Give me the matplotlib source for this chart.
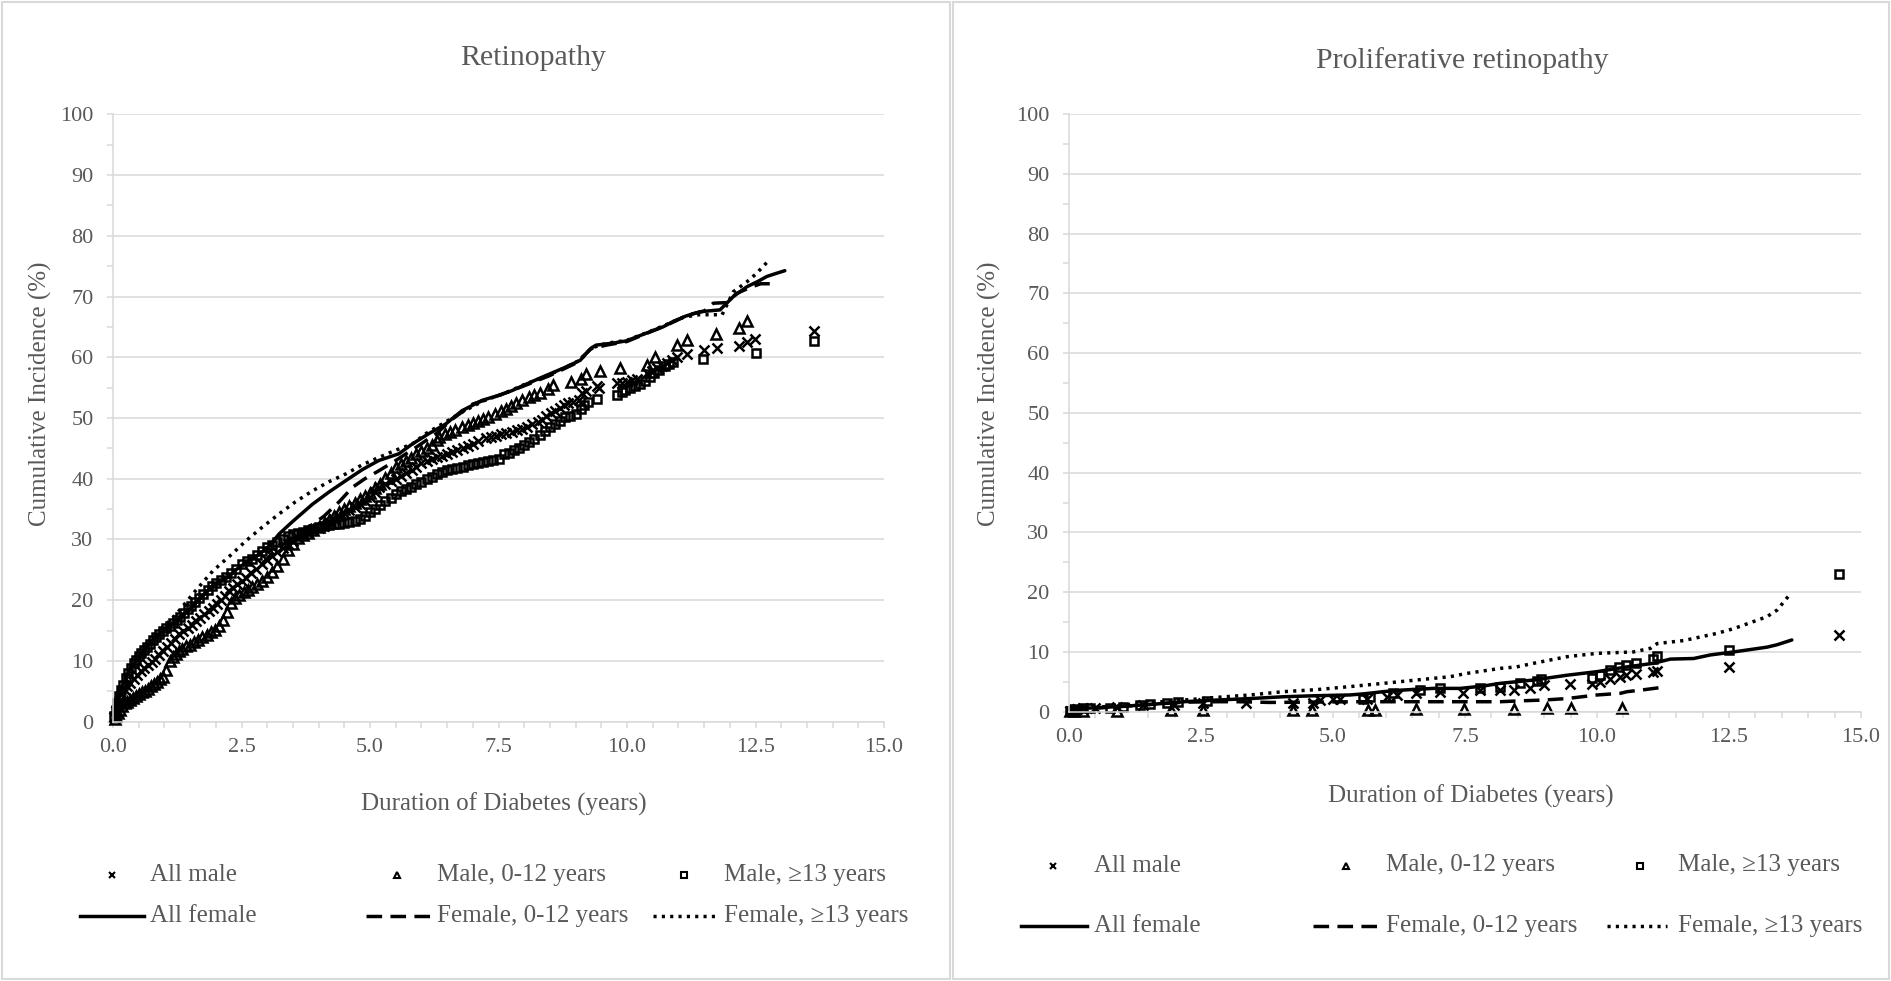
import matplotlib
matplotlib.use("Agg")
import matplotlib.pyplot as plt
from matplotlib.lines import Line2D
from matplotlib.patches import Rectangle
from matplotlib.ticker import MultipleLocator, FuncFormatter

plt.rcParams['font.family'] = ['Liberation Serif', 'DejaVu Serif']

# ---------------------------------------------------------------- data
# Retinopathy -- males (markers)
ret_male_all_x = [0.02, 0.05, 0.09, 0.13, 0.18, 0.23, 0.28, 0.33, 0.4, 0.47, 0.54, 0.61, 0.68, 0.75, 0.82, 0.9,
                  0.97, 1.05, 1.13, 1.21, 1.29, 1.37, 1.45, 1.53, 1.62, 1.7, 1.78, 1.86, 1.94, 2.02, 2.1, 2.18,
                  2.26, 2.34, 2.42, 2.5, 2.59, 2.68, 2.78, 2.9, 3.0, 3.1, 3.2, 3.3, 3.4, 3.5, 3.6, 3.7, 3.8, 3.9,
                  4.0, 4.1, 4.2, 4.3, 4.4, 4.5, 4.6, 4.7, 4.8, 4.9, 5.0, 5.1, 5.17, 5.3, 5.4, 5.5, 5.6, 5.7, 5.82,
                  5.9, 6.0, 6.1, 6.2, 6.3, 6.4, 6.5, 6.6, 6.7, 6.8, 6.9, 7.0, 7.1, 7.25, 7.35, 7.45, 7.55, 7.65,
                  7.76, 7.86, 7.96, 8.06, 8.16, 8.26, 8.34, 8.43, 8.52, 8.6, 8.7, 8.78, 8.86, 8.95, 9.06, 9.13,
                  9.2, 9.41, 9.45, 9.8, 9.9, 10.0, 10.1, 10.19, 10.38, 10.48, 10.58, 10.68, 10.77, 10.87, 10.97,
                  11.16, 11.49, 11.75, 12.17, 12.33, 12.49, 13.63]
ret_male_all_y = [0.8, 1.8, 2.8, 3.6, 4.6, 5.3, 5.8, 6.3, 7.0, 7.7, 8.3, 8.8, 9.3, 9.8, 10.4, 11.0,
                  11.6, 12.3, 12.9, 13.6, 14.4, 14.9, 15.5, 16.0, 16.6, 17.1, 17.7, 18.2, 18.8, 19.4, 20.0, 20.7,
                  21.5, 22.0, 22.6, 23.1, 23.7, 24.4, 25.1, 26.0, 26.7, 27.3, 28.0, 28.6, 29.2, 29.8, 30.3, 30.7,
                  31.1, 31.5, 31.9, 32.3, 32.8, 33.3, 33.9, 34.4, 34.9, 35.4, 35.9, 36.4, 37.0, 37.8, 38.6, 39.2,
                  39.6, 40.0, 40.5, 40.9, 41.4, 42.0, 42.6, 42.9, 43.2, 43.5, 43.8, 44.1, 44.4, 44.7, 45.0, 45.4,
                  45.8, 46.2, 46.7, 46.9, 47.1, 47.3, 47.5, 47.7, 48.0, 48.2, 48.6, 49.0, 49.3, 49.6, 50.3, 50.8,
                  51.2, 51.6, 52.1, 52.4, 52.7, 52.9, 54.1, 54.5, 55.3, 55.0, 55.7, 55.8, 55.9, 56.2, 56.5, 57.4,
                  57.8, 58.2, 58.6, 59.0, 59.6, 60.1, 60.6, 61.2, 61.5, 61.9, 62.5, 63.0, 64.4]

ret_male_young_x = [0.03, 0.06, 0.1, 0.14, 0.18, 0.23, 0.28, 0.33, 0.38, 0.44, 0.5, 0.56, 0.62, 0.68, 0.74, 0.8,
                    0.86, 0.92, 0.98, 1.04, 1.1, 1.16, 1.22, 1.28, 1.35, 1.42, 1.5, 1.58, 1.66, 1.74, 1.82, 1.9,
                    1.98, 2.06, 2.14, 2.22, 2.3, 2.38, 2.46, 2.54, 2.62, 2.7, 2.8, 2.9, 3.0, 3.1, 3.2, 3.3, 3.4,
                    3.5, 3.6, 3.7, 3.8, 3.9, 4.0, 4.1, 4.2, 4.3, 4.4, 4.5, 4.6, 4.7, 4.8, 4.9, 5.0, 5.1, 5.2, 5.3,
                    5.4, 5.5, 5.6, 5.7, 5.8, 5.9, 6.0, 6.1, 6.2, 6.3, 6.34, 6.45, 6.55, 6.65, 6.79, 6.9, 7.0, 7.1,
                    7.2, 7.3, 7.44, 7.55, 7.65, 7.75, 7.85, 7.95, 8.09, 8.2, 8.3, 8.47, 8.57, 8.92, 9.1, 9.21,
                    9.47, 9.86, 10.38, 10.54, 10.97, 11.16, 11.74, 12.17, 12.34]
ret_male_young_y = [0.5, 1.0, 1.5, 2.0, 2.6, 3.0, 3.3, 3.5, 3.9, 4.3, 4.6, 4.9, 5.1, 5.4, 5.8, 6.2,
                    6.6, 7.0, 7.4, 8.5, 10.0, 10.6, 11.1, 11.6, 12.0, 12.4, 12.7, 13.1, 13.5, 13.9, 14.3, 14.7,
                    15.1, 15.8, 16.7, 18.0, 19.5, 20.3, 20.9, 21.3, 21.7, 22.2, 22.7, 23.2, 23.8, 24.6, 25.6, 26.8,
                    28.2, 29.3, 30.2, 30.7, 31.1, 31.5, 32.0, 32.6, 33.2, 33.9, 34.5, 35.0, 35.5, 36.0, 36.6, 37.1,
                    37.7, 38.4, 39.2, 40.1, 41.0, 41.9, 42.4, 42.9, 43.4, 44.0, 44.6, 45.1, 45.6, 46.3, 46.8, 47.3,
                    47.7, 48.1, 48.5, 48.8, 49.1, 49.5, 49.9, 50.2, 50.7, 51.1, 51.5, 52.0, 52.4, 52.9, 53.4, 53.8,
                    54.1, 54.8, 55.4, 56.0, 56.5, 57.2, 57.8, 58.3, 58.7, 60.0, 62.1, 62.8, 63.8, 64.8, 66.0]

ret_male_older_x = [0.02, 0.05, 0.08, 0.12, 0.16, 0.2, 0.25, 0.3, 0.35, 0.4, 0.45, 0.5, 0.55, 0.6, 0.66, 0.72,
                    0.78, 0.84, 0.9, 0.97, 1.04, 1.1, 1.17, 1.24, 1.31, 1.38, 1.45, 1.52, 1.6, 1.68, 1.76, 1.84,
                    1.92, 2.0, 2.1, 2.2, 2.3, 2.4, 2.5, 2.6, 2.7, 2.8, 2.9, 3.0, 3.1, 3.2, 3.3, 3.4, 3.5, 3.6, 3.7,
                    3.8, 3.9, 4.0, 4.1, 4.2, 4.3, 4.4, 4.5, 4.6, 4.7, 4.8, 4.9, 5.0, 5.1, 5.2, 5.3, 5.4, 5.5, 5.6,
                    5.7, 5.8, 5.9, 6.0, 6.1, 6.2, 6.3, 6.4, 6.5, 6.6, 6.7, 6.8, 6.9, 7.0, 7.1, 7.2, 7.3, 7.4, 7.5,
                    7.6, 7.7, 7.8, 7.9, 8.0, 8.1, 8.2, 8.3, 8.4, 8.5, 8.6, 8.7, 8.8, 8.9, 9.0, 9.1, 9.16, 9.25,
                    9.41, 9.8, 9.9, 9.96, 10.05, 10.15, 10.25, 10.35, 10.45, 10.52, 10.62, 10.73, 10.82, 10.89,
                    11.47, 12.5, 13.63]
ret_male_older_y = [1.0, 2.0, 3.0, 4.2, 5.2, 6.1, 7.2, 8.1, 8.9, 9.6, 10.2, 10.8, 11.3, 11.8, 12.3, 12.8,
                    13.4, 13.9, 14.4, 14.9, 15.4, 15.8, 16.3, 16.8, 17.3, 17.9, 18.5, 19.1, 19.7, 20.4, 21.0, 21.7,
                    22.3, 22.8, 23.4, 23.9, 24.5, 25.2, 25.9, 26.4, 26.8, 27.4, 28.1, 28.7, 29.1, 29.6, 30.1, 30.5,
                    30.9, 31.1, 31.3, 31.5, 31.8, 32.0, 32.2, 32.4, 32.5, 32.6, 32.7, 32.8, 33.0, 33.4, 33.9, 34.5,
                    35.1, 35.7, 36.3, 36.9, 37.5, 37.9, 38.3, 38.7, 39.1, 39.5, 39.9, 40.3, 40.7, 41.1, 41.4, 41.6,
                    41.8, 42.0, 42.2, 42.4, 42.6, 42.7, 42.9, 43.1, 43.3, 44.0, 44.3, 44.7, 45.1, 45.6, 46.1, 46.6,
                    47.2, 47.8, 48.5, 49.0, 49.5, 50.1, 50.4, 50.7, 51.5, 52.2, 52.6, 53.2, 53.8, 54.2, 54.6, 54.9,
                    55.2, 55.6, 56.1, 56.8, 57.4, 57.9, 58.5, 58.9, 59.3, 59.7, 60.7, 62.7]

# Retinopathy -- females (lines)
ret_female_all_x = [0, 0.05, 0.1, 0.2, 0.32, 0.5, 0.65, 0.8, 0.97, 1.15, 1.3, 1.5, 1.62, 1.8, 1.94, 2.1, 2.25,
                    2.39, 2.6, 2.85, 3.05, 3.23, 3.5, 3.88, 4.2, 4.53, 4.85, 5.17, 5.56, 5.82, 6.14, 6.47, 6.79,
                    7.18, 7.53, 7.76, 8.1, 8.37, 8.76, 9.09, 9.3, 9.4, 9.7, 9.99, 10.2, 10.45, 10.7, 10.9, 11.15,
                    11.42, 11.81, 12.07, 12.33, 12.55, 12.72, 12.9, 13.07]
ret_female_all_y = [1.5, 3.0, 4.3, 6.3, 8.4, 10.6, 12.2, 13.6, 14.9, 16.0, 17.0, 18.6, 19.6, 21.2, 22.4, 23.2, 23.8,
                    25.0, 26.3, 27.6, 29.0, 30.9, 33.0, 35.8, 37.8, 39.7, 41.5, 43.0, 44.1, 45.7, 47.4, 49.0, 51.2,
                    52.9, 53.8, 54.5, 55.8, 56.8, 58.2, 59.5, 61.5, 62.0, 62.3, 62.7, 63.4, 64.2, 65.0, 65.9, 66.8,
                    67.5, 67.8, 70.0, 71.6, 72.5, 73.3, 73.8, 74.25]

ret_female_young_x = [0, 0.1, 0.32, 0.65, 0.97, 1.3, 1.62, 1.94, 2.26, 2.59, 2.9, 3.2, 3.5, 3.8, 4.1, 4.4, 4.66,
                      4.9, 5.17, 5.5, 5.9, 6.3, 6.6, 7.0, 7.5, 8.0, 8.5, 9.0, 9.3, 9.6, 10.0, 10.4, 10.8, 11.2,
                      11.5, 11.68, 11.94, 12.13, 12.4, 12.6, 12.8]
ret_female_young_y = [1.0, 3.0, 6.2, 9.0, 11.6, 14.4, 16.6, 18.8, 21.5, 23.7, 26.0, 28.5, 30.3, 32.0, 33.8, 36.2,
                      38.6, 40.0, 41.3, 43.0, 45.2, 47.5, 49.8, 52.3, 53.7, 55.3, 57.0, 59.0, 61.4, 62.0, 62.6,
                      64.0, 65.4, 67.0, 67.6, 68.9, 69.0, 70.5, 71.5, 72.1, 72.1]

ret_female_older_x = [0, 0.1, 0.32, 0.65, 0.97, 1.23, 1.6, 1.94, 2.3, 2.59, 2.9, 3.23, 3.55, 3.88, 4.2, 4.53,
                      4.85, 5.17, 5.5, 5.82, 6.1, 6.4, 6.8, 7.2, 7.6, 8.0, 8.4, 8.8, 9.1, 9.3, 9.6, 10.0, 10.4,
                      10.8, 11.1, 11.4, 11.85, 12.07, 12.33, 12.52, 12.72]
ret_female_older_y = [2.5, 4.8, 8.8, 12.8, 15.5, 17.7, 21.5, 24.8, 27.5, 29.8, 32.0, 34.2, 36.2, 38.0, 39.5, 40.8,
                      42.3, 43.5, 44.7, 45.7, 47.5, 49.0, 51.0, 52.8, 54.0, 55.5, 56.8, 58.3, 59.6, 61.5, 62.3,
                      62.8, 64.1, 65.5, 66.6, 67.0, 67.0, 70.8, 72.4, 73.8, 75.6]

# Proliferative retinopathy -- males (markers)
pro_male_all_x = [0.02, 0.08, 0.15, 0.27, 0.5, 0.9, 1.41, 1.98, 2.54, 3.36, 4.25, 4.63, 4.76, 5.0, 5.13, 5.64,
                  6.02, 6.21, 6.58, 7.03, 7.47, 7.78, 8.16, 8.42, 8.74, 8.99, 9.49, 9.9, 10.06, 10.25, 10.44,
                  10.54, 10.73, 11.07, 11.14, 12.5, 14.58]
pro_male_all_y = [0.1, 0.2, 0.4, 0.56, 0.7, 0.84, 1.1, 1.1, 1.4, 1.5, 1.5, 1.5, 1.95, 2.06, 2.06, 2.2,
                  2.5, 2.8, 3.07, 3.35, 3.2, 3.6, 3.6, 3.7, 4.0, 4.5, 4.6, 4.7, 5.0, 5.4, 5.86,
                  6.1, 6.3, 6.7, 6.86, 7.4, 12.8]

pro_male_young_x = [0.02, 0.1, 0.27, 0.9, 1.93, 2.54, 4.25, 4.6, 5.67, 5.8, 6.58, 7.49, 8.42, 9.05, 9.51, 10.47]
pro_male_young_y = [0.1, 0.2, 0.1, 0.1, 0.3, 0.3, 0.3, 0.3, 0.3, 0.3, 0.4, 0.4, 0.4, 0.56, 0.56, 0.67]

pro_male_older_x = [0.02, 0.06, 0.12, 0.27, 0.4, 0.78, 1.03, 1.34, 1.53, 1.85, 2.07, 2.61, 5.57, 5.7, 6.14, 6.65,
                    7.03, 7.78, 8.16, 8.55, 8.86, 8.93, 9.9, 10.06, 10.25, 10.41, 10.54, 10.73, 11.07, 11.14,
                    12.5, 14.58]
pro_male_older_y = [0.1, 0.2, 0.4, 0.56, 0.6, 0.67, 0.84, 1.1, 1.28, 1.4, 1.67, 1.78, 2.2, 2.5, 3.07, 3.6,
                    3.9, 3.9, 4.2, 4.74, 5.1, 5.4, 5.6, 6.1, 6.9, 7.5, 7.8, 8.2, 8.9, 9.3, 10.3, 23.1]

# Proliferative retinopathy -- females (lines)
pro_female_all_x = [0, 0.27, 0.9, 1.53, 2.17, 2.8, 3.43, 4.06, 4.69, 5.32, 5.6, 5.95, 6.27, 6.9, 7.41, 7.85,
                    8.16, 8.8, 9.43, 10.0, 10.57, 11.07, 11.39, 11.83, 12.15, 12.59, 13.22, 13.41, 13.69]
pro_female_all_y = [0.3, 0.56, 0.84, 1.2, 1.67, 1.95, 2.2, 2.5, 2.68, 2.8, 3.0, 3.35, 3.6, 3.9, 3.9, 4.3,
                    4.74, 5.3, 6.1, 6.7, 7.5, 8.1, 8.8, 8.9, 9.5, 10.0, 10.8, 11.2, 12.0]

pro_female_young_x = [0, 0.3, 0.9, 1.5, 2.2, 2.8, 3.2, 3.8, 4.5, 5.5, 6.5, 7.5, 8.17, 8.5, 8.99, 9.43, 10.0,
                      10.44, 10.57, 10.82, 11.17]
pro_female_young_y = [0.2, 0.5, 0.8, 1.2, 1.6, 1.67, 1.67, 1.55, 1.6, 1.67, 1.67, 1.67, 1.67, 1.8, 1.95, 2.2, 2.8,
                      3.07, 3.35, 3.6, 4.0]

pro_female_older_x = [0, 0.3, 0.9, 1.5, 2.17, 2.8, 3.43, 4.06, 4.7, 5.32, 5.95, 6.58, 7.22, 7.53, 8.17, 8.48,
                      8.8, 9.43, 10.0, 10.69, 11.01, 11.14, 11.64, 12.27, 12.59, 12.97, 13.22, 13.41, 13.54, 13.66]
pro_female_older_y = [0.3, 0.6, 1.0, 1.5, 1.95, 2.4, 2.8, 3.35, 3.7, 4.2, 4.74, 5.3, 5.86, 6.4, 7.25, 7.5,
                      8.1, 9.2, 9.76, 10.0, 10.6, 11.4, 11.9, 13.1, 13.9, 15.1, 15.9, 17.0, 18.4, 19.7]

titles = ["Retinopathy", "Proliferative retinopathy"]
x_label = "Duration of Diabetes (years)"
y_label = "Cumulative Incidence (%)"
series_labels = ["All male", "Male, 0-12 years", "Male, \u226513 years",
                 "All female", "Female, 0-12 years", "Female, \u226513 years"]

# ---------------------------------------------------------------- styling
W, H = 1891, 981
TEXT = '#595959'
GRID = '#d9d9d9'
LW = 2.5
DASHED = (0, (4.5, 2.4))
DOTTED = (0, (0.9, 1.5))

fig = plt.figure(figsize=(W / 100, H / 100), dpi=100)


def rect(x0, x1, ytop, ybot):
    return [x0 / W, 1 - ybot / H, (x1 - x0) / W, (ybot - ytop) / H]


def style_axes(ax):
    ax.set_xlim(0, 15)
    ax.set_ylim(0, 100)
    ax.xaxis.set_major_locator(MultipleLocator(2.5))
    ax.xaxis.set_minor_locator(MultipleLocator(0.5))
    ax.xaxis.set_major_formatter(FuncFormatter(lambda v, p: f"{v:.1f}"))
    ax.yaxis.set_major_locator(MultipleLocator(10))
    ax.yaxis.set_minor_locator(MultipleLocator(5))
    ax.set_axisbelow(True)
    ax.grid(axis='y', which='major', color=GRID, lw=1.1)
    for s in ('top', 'right'):
        ax.spines[s].set_visible(False)
    for s in ('left', 'bottom'):
        ax.spines[s].set_color(GRID)
        ax.spines[s].set_linewidth(1.1)
    ax.tick_params(which='both', direction='out', color=GRID, length=4, width=1.1,
                   labelcolor=TEXT, labelsize=16)
    ax.tick_params(axis='x', which='major', pad=8)
    ax.tick_params(axis='y', which='major', pad=10)


def draw_series(ax, males, females):
    mk = dict(ls='none', color='black', mec='black', mew=1.8, clip_on=False)
    (ax_, ay), (yx, yy), (ox, oy) = males
    ax.plot(ax_, ay, marker='x', ms=7, **mk)
    ax.plot(yx, yy, marker='^', ms=7, mfc='none', **mk)
    ax.plot(ox, oy, marker='s', ms=6, mfc='none', **mk)
    (fx, fy), (fyx, fyy), (fox, foy) = females
    ax.plot(fx, fy, color='black', lw=LW, solid_capstyle='round')
    ax.plot(fyx, fyy, color='black', lw=LW, ls=DASHED)
    ax.plot(fox, foy, color='black', lw=LW, ls=DOTTED)


def draw_legend(rows_y, marker_x, line_x, text_x):
    y1, y2 = rows_y[0] / H, rows_y[1] / H
    for mx, m in zip(marker_x, ['x', '^', 's']):
        fig.add_artist(Line2D([mx / W], [1 - y1], transform=fig.transFigure, marker=m, ms=4.5,
                              ls='none', color='black', mfc='none', mew=1.5))
    for (a, b), ls in zip(line_x, ['-', DASHED, DOTTED]):
        fig.add_artist(Line2D([a / W, b / W], [1 - y2, 1 - y2], transform=fig.transFigure,
                              color='black', lw=LW, ls=ls))
    for i, tx in enumerate(text_x):
        fig.text(tx / W, 1 - y1, series_labels[i], ha='left', va='center', size=18, color=TEXT)
        fig.text(tx / W, 1 - y2, series_labels[i + 3], ha='left', va='center', size=18, color=TEXT)


# panel frames
fig.add_artist(Rectangle((1.5 / W, 2 / H), 948.5 / W, 977 / H, transform=fig.transFigure,
                         fill=False, ec=GRID, lw=1.5))
fig.add_artist(Rectangle((953.5 / W, 2 / H), 935.5 / W, 977 / H, transform=fig.transFigure,
                         fill=False, ec=GRID, lw=1.5))

# left panel
ax1 = fig.add_axes(rect(113, 884, 114.3, 721.7))
style_axes(ax1)
draw_series(ax1,
            [(ret_male_all_x, ret_male_all_y), (ret_male_young_x, ret_male_young_y),
             (ret_male_older_x, ret_male_older_y)],
            [(ret_female_all_x, ret_female_all_y), (ret_female_young_x, ret_female_young_y),
             (ret_female_older_x, ret_female_older_y)])
ax1.set_xlabel(x_label, size=18, color=TEXT, va='center')
ax1.xaxis.set_label_coords(0.5065, -0.1355)
ax1.set_ylabel(y_label, size=18, color=TEXT, va='center', ha='center')
ax1.yaxis.set_label_coords(-0.0947, 0.5395)
fig.text(533.6 / W, 1 - 58 / H, titles[0], ha='center', va='center', size=21.5, color=TEXT)
draw_legend((875, 916), (111.7, 397, 683.6), [(80, 144), (366, 431), (653, 717)], (150, 437, 724))

# right panel
ax2 = fig.add_axes(rect(1069, 1861, 114, 711.7))
style_axes(ax2)
draw_series(ax2,
            [(pro_male_all_x, pro_male_all_y), (pro_male_young_x, pro_male_young_y),
             (pro_male_older_x, pro_male_older_y)],
            [(pro_female_all_x, pro_female_all_y), (pro_female_young_x, pro_female_young_y),
             (pro_female_older_x, pro_female_older_y)])
ax2.set_xlabel(x_label, size=18, color=TEXT, va='center')
ax2.xaxis.set_label_coords(0.507, -0.141)
ax2.set_ylabel(y_label, size=18, color=TEXT, va='center', ha='center')
ax2.yaxis.set_label_coords(-0.101, 0.5315)
fig.text(1462 / W, 1 - 60.5 / H, titles[1], ha='center', va='center', size=21.5, color=TEXT)
draw_legend((865.5, 926), (1053, 1346, 1640), [(1021, 1087), (1313, 1377), (1607, 1667)],
            (1094, 1386, 1678))

fig.savefig('out.png', dpi=100, facecolor='white')
